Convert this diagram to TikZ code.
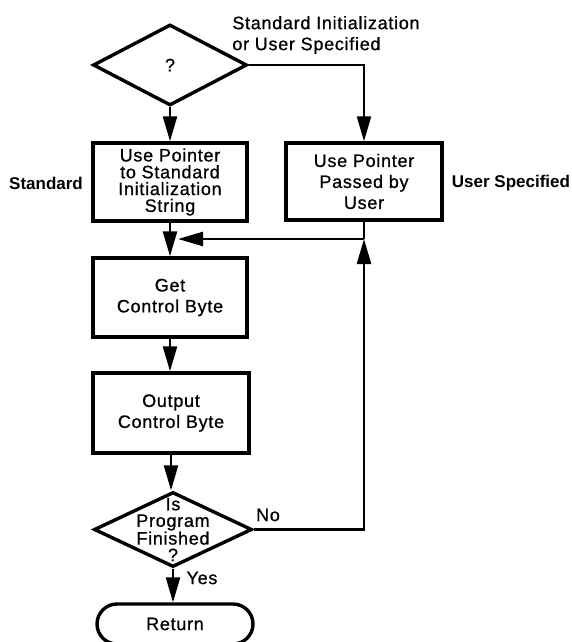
\documentclass[tikz,border=0pt]{standalone}
\usepackage{fontspec}
\setmainfont{Liberation Sans}
\newfontfamily\chartfont{Liberation Sans}[LetterSpace=4, FakeBold=0.8]
\usepackage{tikz}
\usetikzlibrary{
  shapes.geometric,
  arrows.meta,
  calc
}
\tikzset{every picture/.style={line width=0.75pt}}
\tikzset{
  chartbox/.style={draw, line width=3.4pt, rectangle, align=center, inner sep=0pt,
    font=\chartfont\fontsize{18}{21}\selectfont},
  decision/.style={draw, line width=3.4pt, diamond, inner sep=0pt,
    font=\chartfont\fontsize{18}{21}\selectfont},
  terminal/.style={draw, line width=3.4pt, rectangle, rounded corners=20pt, inner sep=0pt,
    font=\chartfont\fontsize{18}{21}\selectfont},
  flowline/.style={line width=2.5pt, -{Triangle[length=25pt,width=14pt]}},
  plainline/.style={line width=2.5pt},
  sidelbl/.style={font=\bfseries\fontsize{17}{21}\selectfont, inner sep=0pt},
  branchlbl/.style={font=\chartfont\fontsize{18}{21}\selectfont, inner sep=0pt}
}

\begin{document}
\begin{tikzpicture}[x=1pt, y=-1pt]
\useasboundingbox (0,0) rectangle (572,642);

% which string
\node[decision, minimum width=154pt, minimum height=81pt] (which) at (170, 65) {?};
\node[branchlbl, anchor=west, align=left] (whichlbl) at (232, 35)
  {Standard Initialization\\or User Specified};

% the two pointers
\node[chartbox, minimum width=154pt, minimum height=78pt,
  font=\chartfont\fontsize{18}{16.8}\selectfont] (stdptr) at (170, 182)
  {Use Pointer\\to Standard\\Initialization\\String};
\node[chartbox, minimum width=156pt, minimum height=77pt] (userptr) at (364, 181.5)
  {Use Pointer\\Passed by\\User};
\node[sidelbl] (stdlbl) at (46, 183) {Standard};
\node[sidelbl] (userlbl) at (511, 183) {User Specified};

% loop over the control bytes
\node[chartbox, minimum width=154pt, minimum height=79pt] (getbyte) at (170, 297.5)
  {Get\\Control Byte};
\node[chartbox, minimum width=156pt, minimum height=80pt] (outbyte) at (171, 413)
  {Output\\Control Byte};
\node[decision, minimum width=158pt, minimum height=75pt,
  label={[branchlbl, align=center, font=\chartfont\fontsize{18}{16.5}\selectfont]center:Is\\Program\\Finished\\?}]
  (done) at (173, 529.5) {};
\node[branchlbl] (nolbl) at (268, 515) {No};
\node[branchlbl] (yeslbl) at (202, 578) {Yes};

% end
\node[terminal, minimum width=156pt, minimum height=40pt] (ret) at (175, 624) {Return};

% joins
\coordinate (merge) at (178, 239);
\coordinate (upjoin) at (364, 239);

% connectors
\draw[flowline] (which.south) -- (stdptr.north);
\draw[flowline] (which.east) -| (userptr.north);
\draw[plainline] (userptr.south) -- (upjoin);
\draw[flowline] (upjoin) -- (merge);
\draw[flowline] (stdptr.south) -- (getbyte.north);
\draw[flowline] (getbyte.south) -- (outbyte.north -| getbyte.south);
\draw[flowline] (outbyte.south) -- (done.north -| outbyte.south);
\draw[flowline] (done.east) -| (upjoin);
\draw[flowline] (done.south) -- (ret.north -| done.south);
\end{tikzpicture}
\end{document}
